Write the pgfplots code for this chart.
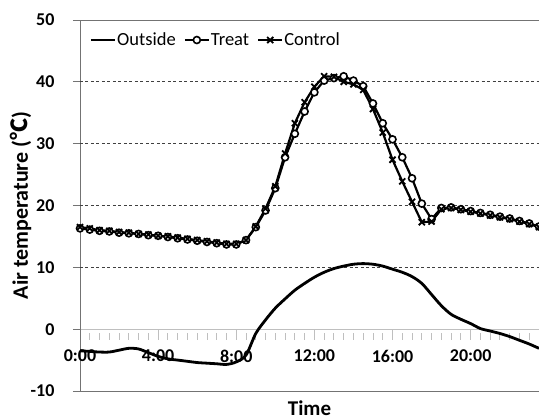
\documentclass[border=0pt]{standalone}
\usepackage{pgfplots}
\pgfplotsset{compat=1.18}
\usepackage{fontspec}
\setmainfont{Carlito}
\newfontfamily\cjk{Noto Sans CJK SC}
\pgfplotstableread{
h treat control outside
0.0 16.3 16.5 -3.5
0.5 16.1 16.3 -3.6
1.0 15.9 16.0 -3.7
1.5 15.8 15.9 -3.7
2.0 15.6 15.7 -3.4
2.5 15.5 15.6 -3.1
3.0 15.4 15.4 -3.2
3.5 15.2 15.3 -3.8
4.0 15.1 15.1 -4.4
4.5 14.9 15.0 -4.8
5.0 14.7 14.8 -5.0
5.5 14.5 14.6 -5.2
6.0 14.3 14.4 -5.4
6.5 14.1 14.2 -5.5
7.0 13.9 14.0 -5.6
7.5 13.7 13.8 -5.7
8.0 13.7 13.8 -5.3
8.5 14.4 14.4 -4.2
9.0 16.5 16.6 -0.7
9.5 19.2 19.5 1.5
10.0 22.8 23.1 3.4
10.5 27.8 28.4 4.9
11.0 31.6 33.3 6.3
11.5 35.2 36.7 7.4
12.0 38.3 39.2 8.4
12.5 40.2 40.9 9.2
13.0 40.6 40.8 9.8
13.5 40.9 40.0 10.2
14.0 40.2 39.6 10.5
14.5 39.3 38.7 10.6
15.0 36.5 35.6 10.5
15.5 33.3 31.8 10.2
16.0 30.7 27.4 9.7
16.5 27.8 23.9 9.2
17.0 24.4 20.6 8.5
17.5 20.3 17.3 7.4
18.0 17.8 17.4 5.6
18.5 19.6 19.4 3.8
19.0 19.7 19.6 2.4
19.5 19.4 19.3 1.6
20.0 19.1 19.0 0.9
20.5 18.8 18.7 0.1
21.0 18.5 18.4 -0.3
21.5 18.2 18.1 -0.7
22.0 17.9 17.8 -1.2
22.5 17.5 17.4 -1.8
23.0 17.1 17.0 -2.4
23.5 16.6 16.5 -3.1
}\datatable
\newcommand{\lf}{\fontsize{18.5}{20}\selectfont}
\begin{document}
\begin{tikzpicture}
\path[use as bounding box] (-80pt,-29pt) rectangle (459pt,391pt);
\begin{axis}[
  scale only axis, width=459pt, height=371pt,
  at={(0,0)}, anchor=south west,
  xmin=0, xmax=23.5, ymin=-10, ymax=50,
  clip=false,
  axis x line=middle, axis y line=left,
  hide obscured x ticks=false, hide obscured y ticks=false,
  axis line style={-},
  x axis line style={draw=black!25, line width=0.9pt},
  y axis line style={draw=black!55, line width=0.9pt},
  xtick={0,4,8,12,16,20},
  xticklabels={0:00,4:00,8:00,12:00,16:00,20:00},
  minor xtick={0,0.5,...,23.5},
  xtick align=center,
  major tick length=7pt, minor tick length=7pt,
  x tick style={draw=black!25, line width=0.9pt, yshift=-3.5pt},
  minor x tick style={draw=black!25, line width=0.9pt, yshift=-3.5pt},
  xticklabel style={font=\bfseries\fontsize{18}{20}\selectfont, yshift=-14pt},
  ytick={-10,0,10,20,30,40,50},
  yticklabels={-10,0,10,20,30,40,50},
  ytick align=outside, ytick pos=left,
  y tick style={draw=black!55, line width=0.9pt},
  yticklabel style={font=\bfseries\fontsize{18}{20}\selectfont, xshift=-15pt},
  extra y ticks={10,20,30,40},
  extra y tick labels={},
  extra y tick style={grid=major, major tick length=0pt,
     major grid style={draw=black!75, line width=0.8pt, dash pattern=on 3pt off 2.5pt}},
  xlabel={Time},
  xlabel style={at={(axis description cs:0.5,0)}, anchor=north, inner sep=0pt, yshift=-10pt,
     font=\bfseries\fontsize{21}{24}\selectfont},
  ylabel={Air temperature ({\cjk\bfseries ℃})},
  ylabel style={at={(axis description cs:-0.1285,0.5)}, anchor=center,
     font=\bfseries\fontsize{22}{24}\selectfont},
  legend style={at={(axis description cs:0.02,0.946)}, anchor=west, draw=none, fill=none,
     font=\lf, inner sep=0pt, nodes={inner sep=1pt}},
  legend columns=3,
  /tikz/every even column/.append style={column sep=7pt},
  legend image code/.code={\draw[mark repeat=2,mark phase=2,#1] plot coordinates {(0pt,0pt) (12pt,0pt) (24pt,0pt)};},
]
\draw[black!55, line width=0.9pt] (rel axis cs:0,0) -- (rel axis cs:1,0);
\draw[black!55, line width=0.9pt] (rel axis cs:0,1) -- (rel axis cs:1,1);
\addplot[black, line width=2.8pt, smooth, no markers] table[x=h, y=outside] {\datatable};
\addlegendentry{\lf Outside}
\addplot[black, line width=2.2pt, mark=*, mark size=3.5pt, mark options={fill=white, draw=black, line width=1.6pt}] table[x=h, y=treat] {\datatable};
\addlegendentry{\lf Treat}
\addplot[black, line width=2.2pt, mark=x, mark size=4.3pt, mark options={line width=1.8pt}] table[x=h, y=control] {\datatable};
\addlegendentry{\lf Control}
\end{axis}
\end{tikzpicture}
\end{document}
